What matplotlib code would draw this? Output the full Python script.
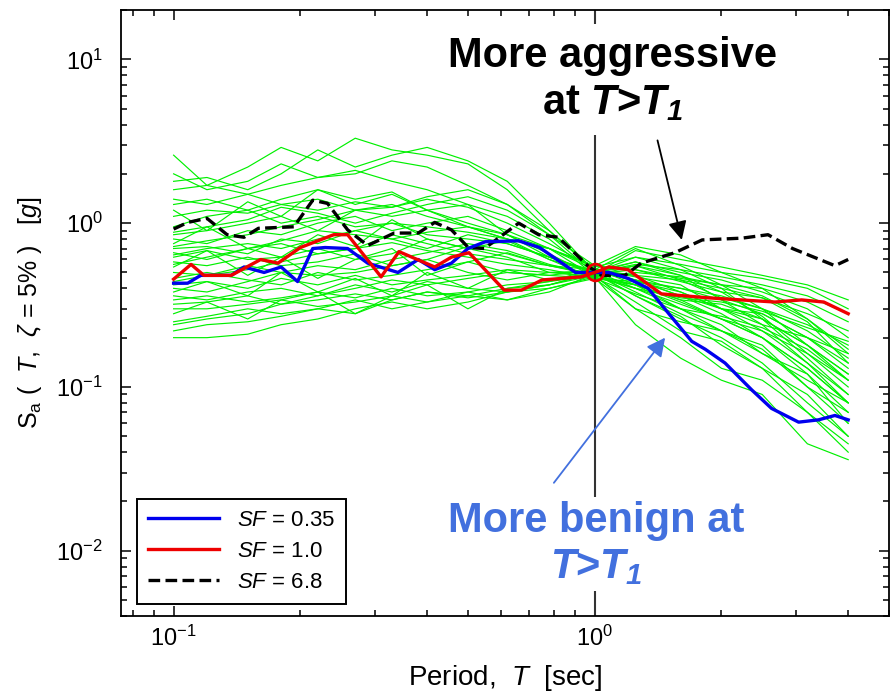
import matplotlib
matplotlib.use('Agg')
import matplotlib.pyplot as plt
from matplotlib.lines import Line2D

plt.rcParams['font.family'] = ['Liberation Sans', 'DejaVu Sans']
plt.rcParams['mathtext.fontset'] = 'custom'
plt.rcParams['mathtext.rm'] = 'Liberation Sans'
plt.rcParams['mathtext.it'] = 'Liberation Sans:italic'
plt.rcParams['mathtext.bf'] = 'Liberation Sans:bold'
plt.rcParams['mathtext.bfit'] = 'Liberation Sans:bold:italic'

# spectra of the scaled records (all anchored near T1 = 1.0 s)
period_grid = [0.10, 0.12, 0.15, 0.18, 0.22, 0.27, 0.33, 0.40, 0.50, 0.62,
               0.78, 1.0, 1.25, 1.6, 2.0, 2.5, 3.2, 4.0]
record_sa = [
    [2.6, 1.7, 2.2, 2.9, 2.4, 3.3, 2.8, 2.6, 2.3, 1.6, 0.9, 0.52, 0.70, 0.55, 0.42, 0.30, 0.18, 0.11],
    [1.8, 1.9, 1.6, 2.0, 2.8, 2.2, 2.6, 2.9, 2.4, 1.8, 1.0, 0.50, 0.62, 0.52, 0.40, 0.26, 0.15, 0.09],
    [1.4, 1.3, 1.5, 1.7, 1.9, 2.1, 1.8, 1.6, 1.3, 1.1, 0.8, 0.48, 0.55, 0.45, 0.35, 0.30, 0.22, 0.15],
    [1.2, 0.9, 1.35, 1.1, 1.6, 1.4, 1.55, 1.2, 1.3, 0.85, 0.7, 0.52, 0.48, 0.38, 0.30, 0.22, 0.16, 0.10],
    [0.95, 1.1, 1.2, 1.4, 1.6, 1.3, 1.5, 1.2, 1.0, 0.85, 0.65, 0.47, 0.40, 0.32, 0.26, 0.20, 0.13, 0.08],
    [0.85, 0.9, 1.0, 1.1, 0.9, 1.2, 1.3, 1.1, 0.95, 0.8, 0.6, 0.50, 0.58, 0.50, 0.45, 0.38, 0.30, 0.20],
    [0.80, 0.75, 0.9, 0.85, 1.0, 1.1, 0.9, 1.0, 1.1, 0.9, 0.7, 0.55, 0.52, 0.44, 0.38, 0.35, 0.25, 0.14],
    [0.75, 0.95, 0.7, 0.62, 0.85, 0.72, 1.05, 0.8, 0.7, 0.78, 0.6, 0.46, 0.42, 0.30, 0.22, 0.18, 0.10, 0.06],
    [0.70, 0.72, 0.65, 0.8, 0.75, 0.9, 0.8, 0.7, 0.85, 0.75, 0.62, 0.50, 0.45, 0.40, 0.36, 0.30, 0.24, 0.18],
    [0.66, 0.6, 0.7, 0.75, 0.65, 0.7, 0.85, 0.75, 0.65, 0.6, 0.55, 0.49, 0.36, 0.26, 0.20, 0.14, 0.08, 0.05],
    [0.62, 0.68, 0.6, 0.62, 0.7, 0.6, 0.65, 0.8, 0.7, 0.62, 0.5, 0.47, 0.50, 0.47, 0.42, 0.40, 0.33, 0.25],
    [0.58, 0.55, 0.62, 0.55, 0.58, 0.65, 0.55, 0.6, 0.72, 0.65, 0.55, 0.52, 0.47, 0.42, 0.30, 0.26, 0.18, 0.12],
    [0.54, 0.68, 0.48, 0.62, 0.46, 0.6, 0.7, 0.48, 0.58, 0.66, 0.55, 0.48, 0.30, 0.25, 0.22, 0.17, 0.10, 0.07],
    [0.50, 0.48, 0.55, 0.5, 0.48, 0.5, 0.55, 0.6, 0.5, 0.45, 0.5, 0.50, 0.55, 0.48, 0.38, 0.27, 0.16, 0.11],
    [0.46, 0.5, 0.45, 0.42, 0.5, 0.45, 0.48, 0.52, 0.58, 0.5, 0.48, 0.46, 0.44, 0.40, 0.34, 0.28, 0.20, 0.13],
    [0.42, 0.44, 0.4, 0.46, 0.42, 0.48, 0.42, 0.45, 0.48, 0.52, 0.5, 0.51, 0.40, 0.30, 0.24, 0.16, 0.11, 0.08],
    [0.38, 0.44, 0.36, 0.5, 0.38, 0.46, 0.36, 0.5, 0.4, 0.52, 0.45, 0.50, 0.48, 0.45, 0.40, 0.35, 0.28, 0.22],
    [0.36, 0.34, 0.38, 0.4, 0.36, 0.42, 0.38, 0.44, 0.4, 0.38, 0.42, 0.48, 0.42, 0.34, 0.26, 0.22, 0.14, 0.09],
    [0.34, 0.36, 0.33, 0.35, 0.38, 0.35, 0.4, 0.36, 0.38, 0.42, 0.44, 0.53, 0.45, 0.36, 0.30, 0.24, 0.20, 0.16],
    [0.32, 0.33, 0.36, 0.32, 0.34, 0.37, 0.34, 0.38, 0.35, 0.38, 0.40, 0.47, 0.33, 0.22, 0.19, 0.13, 0.07, 0.045],
    [0.30, 0.3, 0.32, 0.34, 0.31, 0.33, 0.36, 0.33, 0.36, 0.34, 0.38, 0.49, 0.52, 0.46, 0.42, 0.36, 0.26, 0.17],
    [0.28, 0.33, 0.26, 0.34, 0.38, 0.28, 0.36, 0.42, 0.3, 0.4, 0.42, 0.50, 0.38, 0.28, 0.22, 0.16, 0.12, 0.06],
    [0.25, 0.27, 0.3, 0.28, 0.3, 0.34, 0.3, 0.33, 0.38, 0.34, 0.4, 0.46, 0.30, 0.20, 0.13, 0.11, 0.07, 0.04],
    [0.24, 0.26, 0.28, 0.32, 0.36, 0.4, 0.45, 0.42, 0.46, 0.5, 0.48, 0.52, 0.44, 0.38, 0.30, 0.28, 0.20, 0.14],
    [0.22, 0.24, 0.25, 0.27, 0.3, 0.28, 0.34, 0.38, 0.36, 0.40, 0.44, 0.48, 0.42, 0.33, 0.26, 0.20, 0.13, 0.08],
    [0.20, 0.2, 0.21, 0.24, 0.26, 0.3, 0.33, 0.3, 0.33, 0.38, 0.42, 0.50, 0.36, 0.27, 0.18, 0.13, 0.09, 0.05],
    [1.6, 1.7, 1.5, 1.3, 1.4, 1.2, 1.1, 1.2, 0.95, 0.8, 0.7, 0.54, 0.62, 0.56, 0.50, 0.46, 0.40, 0.30],
    [1.3, 1.4, 1.2, 1.0, 1.1, 0.95, 1.0, 0.85, 0.8, 0.75, 0.62, 0.51, 0.45, 0.36, 0.28, 0.20, 0.12, 0.07],
    [0.88, 0.95, 1.05, 1.25, 1.15, 1.0, 1.15, 1.3, 1.45, 1.2, 0.85, 0.49, 0.68, 0.60, 0.54, 0.48, 0.42, 0.34],
    [0.72, 0.78, 0.85, 0.95, 1.05, 1.2, 1.25, 1.4, 1.25, 1.0, 0.75, 0.53, 0.42, 0.34, 0.32, 0.26, 0.18, 0.12],
    [0.64, 0.7, 0.75, 0.7, 0.8, 0.9, 1.0, 0.95, 0.88, 0.8, 0.7, 0.47, 0.24, 0.15, 0.11, 0.09, 0.045, 0.036],
    [0.56, 0.62, 0.7, 0.78, 0.9, 0.85, 0.8, 0.88, 0.95, 0.85, 0.62, 0.50, 0.56, 0.52, 0.47, 0.42, 0.36, 0.28],
    [0.44, 0.48, 0.52, 0.58, 0.65, 0.7, 0.76, 0.68, 0.62, 0.56, 0.52, 0.46, 0.37, 0.30, 0.27, 0.23, 0.17, 0.11],
    [0.40, 0.38, 0.44, 0.5, 0.55, 0.52, 0.6, 0.66, 0.75, 0.68, 0.56, 0.48, 0.40, 0.35, 0.33, 0.29, 0.23, 0.19],
    [2.0, 1.6, 1.8, 2.3, 1.9, 2.0, 2.4, 2.2, 1.7, 1.3, 0.9, 0.51, 0.58, 0.48, 0.34, 0.24, 0.14, 0.08],
    [1.1, 1.2, 1.15, 1.3, 1.2, 1.35, 1.25, 1.45, 1.6, 1.3, 0.85, 0.55, 0.72, 0.64, 0.50, 0.40, 0.26, 0.16],
]

# SF = 0.35
blue_t = [0.10, 0.108, 0.116, 0.137, 0.147, 0.164, 0.180, 0.197, 0.214, 0.229, 0.259,
          0.289, 0.341, 0.381, 0.417, 0.457, 0.50, 0.55, 0.66, 0.74, 0.90, 1.00, 1.08,
          1.20, 1.34, 1.50, 1.70, 1.83, 2.04, 2.36, 2.63, 3.05, 3.40, 3.72, 4.00]
blue_sa = [0.43, 0.43, 0.48, 0.48, 0.54, 0.50, 0.54, 0.44, 0.70, 0.71, 0.70,
           0.57, 0.50, 0.60, 0.52, 0.57, 0.70, 0.77, 0.78, 0.71, 0.50, 0.50, 0.50,
           0.46, 0.40, 0.28, 0.19, 0.17, 0.14, 0.096, 0.074, 0.061, 0.063, 0.067, 0.063]

# SF = 1.0
red_t = [0.10, 0.110, 0.118, 0.137, 0.161, 0.177, 0.20, 0.24, 0.259, 0.311, 0.343,
         0.417, 0.457, 0.503, 0.61, 0.67, 0.75, 0.93, 1.00, 1.08, 1.20, 1.44, 1.86,
         2.68, 3.1, 3.5, 4.0]
red_sa = [0.455, 0.56, 0.48, 0.48, 0.60, 0.57, 0.71, 0.85, 0.85, 0.47, 0.67,
          0.54, 0.62, 0.66, 0.39, 0.39, 0.45, 0.47, 0.50, 0.54, 0.52, 0.37, 0.35,
          0.33, 0.34, 0.33, 0.28]

# SF = 6.8
black_t = [0.10, 0.108, 0.120, 0.134, 0.147, 0.159, 0.193, 0.214, 0.232, 0.259, 0.289,
           0.334, 0.381, 0.417, 0.457, 0.501, 0.547, 0.66, 0.736, 0.82, 0.97, 1.04,
           1.18, 1.29, 1.55, 1.80, 2.24, 2.58, 2.95, 3.72, 4.0]
black_sa = [0.92, 1.01, 1.07, 0.85, 0.82, 0.93, 0.95, 1.38, 1.32, 0.91, 0.73,
            0.87, 0.87, 1.01, 0.91, 0.71, 0.70, 1.00, 0.85, 0.82, 0.54, 0.48,
            0.48, 0.57, 0.66, 0.79, 0.81, 0.85, 0.70, 0.55, 0.60]

t1 = 1.0
legend_labels = ['$SF$ = 0.35', '$SF$ = 1.0', '$SF$ = 6.8']

fig = plt.figure(figsize=(8.92, 6.94), dpi=100)
ax = fig.add_axes([121 / 892, 1 - 616 / 694, 768 / 892, 606 / 694])

for sa in record_sa:
    ax.plot(period_grid, sa, color='#00f000', lw=0.85, zorder=1)

ax.axvline(t1, color='#333333', lw=1.5, zorder=2)

ax.plot(black_t, black_sa, color='black', lw=2.4, ls=(0, (3.5, 1.6)), zorder=3)
ax.plot(blue_t, blue_sa, color='#0000ee', lw=2.4, zorder=3)
ax.plot(red_t, red_sa, color='#ee0000', lw=2.4, zorder=3)
ax.plot([t1], [red_sa[red_t.index(t1)]], marker='o', ms=12, mfc='none',
        mec='#ee0000', mew=2, zorder=4)

ax.set_xscale('log')
ax.set_yscale('log')
ax.set_xlim(0.075, 5)
ax.set_ylim(0.004, 20)

ax.tick_params(which='both', direction='in', top=True, right=True,
               labelsize=17, width=1.1)
ax.tick_params(which='major', length=7)
ax.tick_params(which='minor', length=4)
ax.tick_params(axis='y', which='major', pad=13)
ax.tick_params(axis='x', which='major', pad=7)
for sp in ax.spines.values():
    sp.set_linewidth(1.3)

ax.set_xlabel('Period,  $T$  [sec]', fontsize=20, labelpad=9)
ax.set_ylabel(r'S$_{\mathrm{a}}$ (  $T$,  $\zeta$ = 5% )   [$g$]', fontsize=18, labelpad=9)

handles = [Line2D([], [], color='#0000ee', lw=2.4),
           Line2D([], [], color='#ee0000', lw=2.4),
           Line2D([], [], color='black', lw=2.4, ls=(0, (3.5, 1.6)))]
leg = ax.legend(handles, legend_labels, loc='lower left',
                bbox_to_anchor=(0.021, 0.020), borderaxespad=0,
                fontsize=16, handlelength=3.2, labelspacing=0.45,
                borderpad=0.5, fancybox=False, framealpha=1, edgecolor='black')
leg.get_frame().set_linewidth(1.4)

ax.text(1.10, 13.8, 'More aggressive\nat $\\mathbfit{T}$>$\\mathbfit{T}_{\\mathbfit{1}}$',
        fontsize=30, fontweight='bold', ha='center', va='top',
        multialignment='center', color='black', zorder=6,
        bbox=dict(boxstyle='square,pad=0.3', fc='white', ec='none'))
ax.text(1.01, 0.0202, 'More benign at\n$\\mathbfit{T}$>$\\mathbfit{T}_{\\mathbfit{1}}$',
        fontsize=30, fontweight='bold', ha='center', va='top',
        multialignment='center', color='#4270de', zorder=6,
        bbox=dict(boxstyle='square,pad=0.1', fc='white', ec='none'))

ax.annotate('', xy=(1.61, 0.79), xytext=(1.41, 3.2),
            arrowprops=dict(arrowstyle='-|>', color='black', lw=1.3,
                            mutation_scale=28, shrinkA=0, shrinkB=0), zorder=7)
ax.annotate('', xy=(1.47, 0.20), xytext=(0.80, 0.026),
            arrowprops=dict(arrowstyle='-|>', color='#4270de', lw=1.3,
                            mutation_scale=28, shrinkA=0, shrinkB=0), zorder=7)

fig.savefig('out.png', dpi=100)
